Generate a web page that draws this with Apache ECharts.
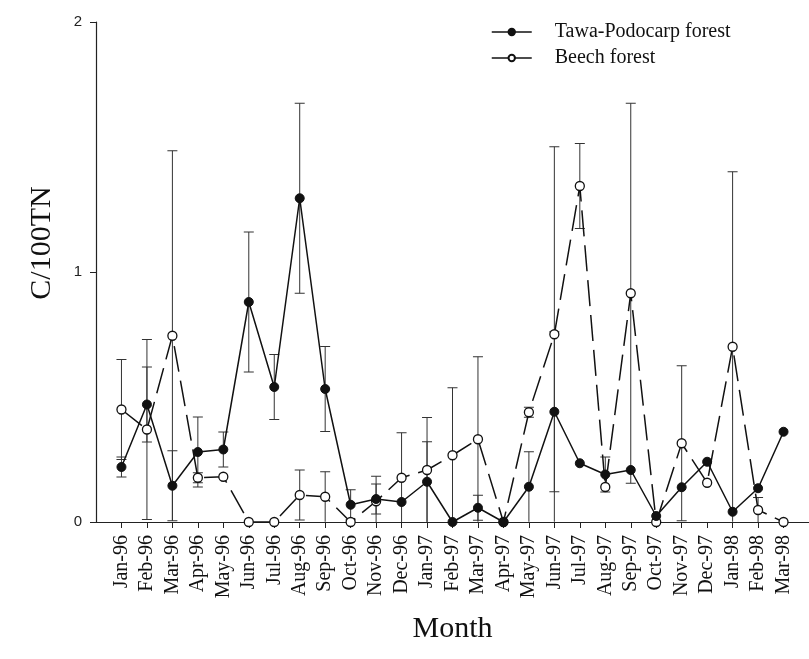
<!DOCTYPE html>
<html>
<head>
<meta charset="utf-8">
<script src="https://cdn.jsdelivr.net/npm/echarts@6/dist/echarts.min.js"></script>
<style>
  html, body { margin: 0; padding: 0; background: #fff; }
  #chart { width: 809px; height: 659px; }
</style>
</head>
<body>
<div id="chart"></div>
<script>
// Monthly C/100TN ratios, mean and standard error
const months = ['Jan-96', 'Feb-96', 'Mar-96', 'Apr-96', 'May-96', 'Jun-96', 'Jul-96', 'Aug-96', 'Sep-96',
  'Oct-96', 'Nov-96', 'Dec-96', 'Jan-97', 'Feb-97', 'Mar-97', 'Apr-97', 'May-97', 'Jun-97', 'Jul-97',
  'Aug-97', 'Sep-97', 'Oct-97', 'Nov-97', 'Dec-97', 'Jan-98', 'Feb-98', 'Mar-98'];

const tawaMean = [0.22, 0.47, 0.145, 0.28, 0.29, 0.88, 0.54, 1.295, 0.532, 0.069, 0.092, 0.08, 0.161, 0.0,
  0.057, 0.0, 0.141, 0.441, 0.235, 0.19, 0.208, 0.024, 0.139, 0.241, 0.041, 0.135, 0.361];
const tawaErr = [0.04, 0.15, 0.14, 0.14, 0.07, 0.28, 0.13, 0.38, 0.17, 0.06, 0.06, 0, 0.16, 0,
  0.05, 0, 0.14, 0.32, 0, 0.07, 0, 0, 0, 0, 0, 0, 0];

const beechMean = [0.45, 0.37, 0.745, 0.177, 0.181, 0.0, 0.0, 0.108, 0.101, 0.0, 0.083, 0.177, 0.208, 0.267,
  0.331, 0.0, 0.439, 0.751, 1.344, 0.14, 0.915, 0.0, 0.315, 0.157, 0.701, 0.048, 0.0];
const beechErr = [0.20, 0.36, 0.74, 0.02, 0, 0, 0, 0.10, 0.10, 0, 0.10, 0.18, 0.21, 0.27,
  0.33, 0, 0.02, 0.75, 0.17, 0, 0.76, 0, 0.31, 0, 0.70, 0.05, 0];

const yTicks = [0, 1, 2];

const serif = '"Liberation Serif", "DejaVu Serif", serif';
const sans = '"Liberation Sans", Arial, sans-serif';

function errorData(mean, err) {
  const out = [];
  mean.forEach((m, i) => {
    if (err[i] > 0) out.push([i, Math.max(0, m - err[i]), m + err[i], m - err[i] > 0.005 ? 1 : 0]);
  });
  return out;
}

function renderError(params, api) {
  const x = api.value(0);
  const lo = api.coord([x, api.value(1)]);
  const hi = api.coord([x, api.value(2)]);
  const hasLow = api.value(3) === 1;
  const half = 5;
  const style = { stroke: '#333', lineWidth: 1, fill: null };
  const children = [
    { type: 'line', shape: { x1: hi[0], y1: hi[1], x2: lo[0], y2: lo[1] }, style: style },
    { type: 'line', shape: { x1: hi[0] - half, y1: hi[1], x2: hi[0] + half, y2: hi[1] }, style: style }
  ];
  if (hasLow) {
    children.push({ type: 'line', shape: { x1: lo[0] - half, y1: lo[1], x2: lo[0] + half, y2: lo[1] }, style: style });
  }
  return { type: 'group', children: children };
}

const indexed = arr => arr.map((v, i) => [i, v]);

const chart = echarts.init(document.getElementById('chart'), null, { renderer: 'canvas' });

chart.setOption({
  backgroundColor: '#fff',
  animation: false,
  grid: { left: 96, top: 22, width: 718, height: 500, containLabel: false },
  legend: {
    orient: 'vertical',
    left: 486,
    top: 17,
    itemGap: 6,
    itemWidth: 40,
    itemHeight: 8,
    textStyle: { fontFamily: serif, fontSize: 20, color: '#111', padding: [0, 0, 0, 18] },
    lineStyle: { type: 'solid', width: 1.5 },
    data: ['Tawa-Podocarp forest', 'Beech forest']
  },
  xAxis: {
    type: 'value',
    min: -1,
    max: 27,
    interval: 1,
    axisLine: { onZero: false, lineStyle: { color: '#222', width: 1.2 } },
    axisTick: { show: true, length: 6, inside: false, lineStyle: { color: '#222' } },
    splitLine: { show: false },
    axisLabel: {
      rotate: 90,
      margin: 13,
      fontFamily: serif,
      fontSize: 20,
      color: '#111',
      showMinLabel: false,
      showMaxLabel: false,
      formatter: v => (months[v] !== undefined ? months[v] : '')
    },
    name: 'Month',
    nameLocation: 'middle',
    nameGap: 92,
    nameTextStyle: { fontFamily: serif, fontSize: 30, color: '#111' }
  },
  yAxis: {
    type: 'value',
    min: yTicks[0],
    max: yTicks[yTicks.length - 1],
    interval: 1,
    axisLine: { show: true, onZero: false, lineStyle: { color: '#222', width: 1.2 } },
    axisTick: { show: true, length: 6, lineStyle: { color: '#222' } },
    splitLine: { show: false },
    axisLabel: { margin: 14, fontFamily: sans, fontSize: 15, color: '#222' }
  },
  graphic: [{
    type: 'text',
    x: 42,
    y: 243,
    rotation: Math.PI / 2,
    style: {
      text: 'C/100TN',
      font: '30px ' + serif,
      fill: '#111',
      align: 'center',
      verticalAlign: 'middle'
    }
  }],
  series: [
    {
      type: 'custom',
      name: 'tawaErr',
      renderItem: renderError,
      data: errorData(tawaMean, tawaErr),
      z: 1,
      silent: true
    },
    {
      type: 'custom',
      name: 'beechErr',
      renderItem: renderError,
      data: errorData(beechMean, beechErr),
      z: 1,
      silent: true
    },
    {
      name: 'Beech forest',
      type: 'line',
      data: indexed(beechMean),
      symbol: 'circle',
      symbolSize: 9,
      itemStyle: { color: '#fff', borderColor: '#111', borderWidth: 1.3 },
      lineStyle: { color: '#111', width: 1.5, type: [26, 9] },
      z: 3
    },
    {
      name: 'Tawa-Podocarp forest',
      type: 'line',
      data: indexed(tawaMean),
      symbol: 'circle',
      symbolSize: 9,
      itemStyle: { color: '#111', borderColor: '#111', borderWidth: 1 },
      lineStyle: { color: '#111', width: 1.5, type: 'solid' },
      z: 4
    }
  ]
});
</script>
</body>
</html>
